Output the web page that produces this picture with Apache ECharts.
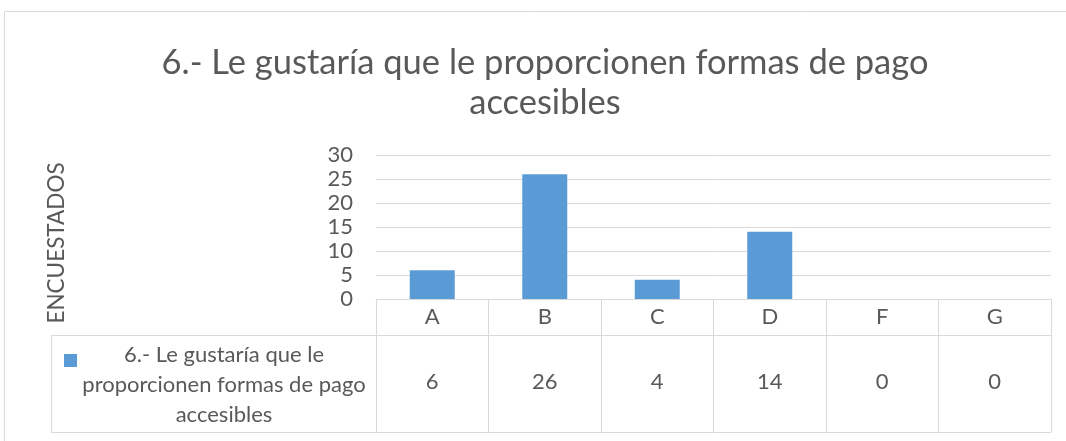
<!DOCTYPE html>
<html>
<head>
<meta charset="utf-8">
<script src="https://cdn.jsdelivr.net/npm/echarts@6/dist/echarts.min.js"></script>
<style>
  html, body { margin: 0; padding: 0; background: #fff; }
  #main { width: 1066px; height: 441px; }
</style>
</head>
<body>
<div id="main"></div>
<script>
// datos del grafico
var categorias = ['A', 'B', 'C', 'D', 'F', 'G'];
var valores = [6, 26, 4, 14, 0, 0];
var nombreSerie = '6.- Le gustaría que le proporcionen formas de pago accesibles';
var titulo = '6.- Le gustaría que le proporcionen formas de pago\naccesibles';
var ticksY = [0, 5, 10, 15, 20, 25, 30];

var gris = '#595959';
var linea = '#d9d9d9';
var fuente = 'Lato';

var myChart = echarts.init(document.getElementById('main'));
myChart.setOption({
  animation: false,
  textStyle: { fontFamily: fuente },
  title: {
    text: titulo,
    left: 540,
    top: 38,
    textAlign: 'center',
    textStyle: { fontFamily: fuente, fontSize: 34.5, fontWeight: 'normal', color: gris, lineHeight: 40 }
  },
  grid: { left: 376, right: 15, top: 155, height: 144, containLabel: false },
  legend: {
    show: true,
    left: 59,
    top: 349,
    icon: 'rect',
    itemWidth: 13,
    itemHeight: 13,
    formatter: function () { return ''; },
    data: [nombreSerie]
  },
  xAxis: [
    {
      // fila de encabezado
      type: 'category',
      data: categorias,
      axisLine: { show: true, lineStyle: { color: linea } },
      axisTick: { show: true, interval: 0, length: 133, lineStyle: { color: linea } },
      axisLabel: { interval: 0, margin: 7, fontSize: 22, color: gris, fontFamily: fuente }
    },
    {
      // fila de valores
      type: 'category',
      data: categorias,
      position: 'bottom',
      offset: 36,
      axisLine: { show: true, lineStyle: { color: linea } },
      axisTick: { show: false },
      axisLabel: {
        interval: 0, margin: 36, fontSize: 22, color: gris, fontFamily: fuente,
        formatter: function (v, i) { return String(valores[i]); }
      }
    },
    {
      // borde inferior de la tabla
      type: 'category',
      data: categorias,
      position: 'bottom',
      offset: 133,
      axisLine: { show: true, lineStyle: { color: linea } },
      axisTick: { show: false },
      axisLabel: { show: false }
    }
  ],
  yAxis: {
    type: 'value',
    min: 0,
    max: 30,
    interval: 5,
    name: 'ENCUESTADOS',
    nameLocation: 'middle',
    nameRotate: 90,
    nameGap: 308,
    nameTextStyle: { fontSize: 22.5, color: gris, fontFamily: fuente, padding: [0, 32, 0, 0] },
    axisLine: { show: false },
    axisTick: { show: false },
    axisLabel: { fontSize: 22, color: gris, margin: 23, fontFamily: fuente },
    splitLine: { lineStyle: { color: linea, width: 1 } }
  },
  series: [
    {
      name: nombreSerie,
      type: 'bar',
      data: valores,
      barWidth: '40%',
      itemStyle: { color: '#5b9bd5' }
    }
  ],
  graphic: [
    {
      type: 'rect',
      silent: true,
      shape: { x: 4.5, y: 11.5, width: 1100, height: 500 },
      style: { fill: 'none', stroke: linea, lineWidth: 1 }
    },
    {
      type: 'rect',
      silent: true,
      shape: { x: 51.5, y: 335.5, width: 325, height: 97 },
      style: { fill: 'none', stroke: linea, lineWidth: 1 }
    },
    {
      type: 'text',
      silent: true,
      x: 224,
      y: 340,
      style: {
        text: '6.- Le gustaría que le\nproporcionen formas de pago\naccesibles',
        textAlign: 'center',
        textVerticalAlign: 'top',
        font: '22px Lato',
        lineHeight: 30,
        fill: gris
      }
    }
  ]
});
</script>
</body>
</html>
